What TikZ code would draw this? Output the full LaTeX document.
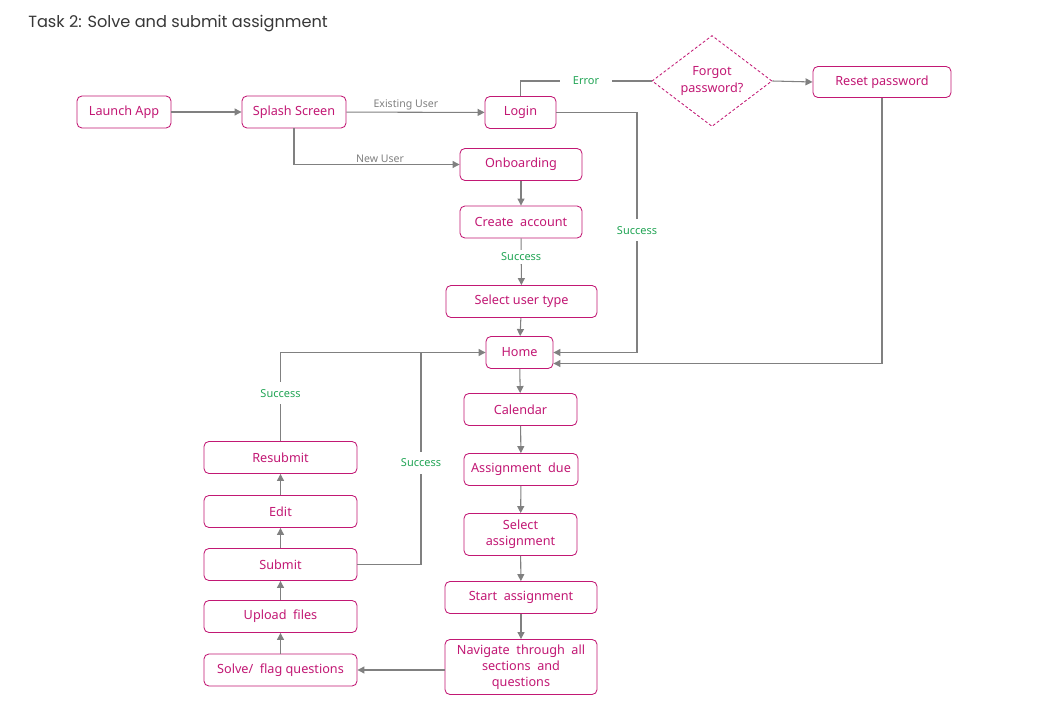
\documentclass[tikz,border=0pt]{standalone}
\usepackage{fontspec}
\setmainfont{Noto Sans}
\newfontfamily\titlefont{Poppins}
\usetikzlibrary{arrows.meta}
\usetikzlibrary{shapes.geometric}
\definecolor{boxmag}{RGB}{194,24,116}
\definecolor{linegray}{RGB}{128,128,128}
\definecolor{okgreen}{RGB}{34,165,85}
\definecolor{titlegray}{RGB}{55,55,55}

\begin{document}
\begin{tikzpicture}[x=0.025cm, y=-0.025cm,
    box/.style={draw=boxmag, rounded corners=3.5pt, line width=0.6pt, text=boxmag, font=\fontsize{9}{11.4}\selectfont, inner sep=0pt, align=center, minimum height=0.8cm},
    flow/.style={draw=linegray, line width=0.75pt, -{Triangle[length=5pt,width=5pt]}},
    plain/.style={draw=linegray, line width=0.75pt},
    lbl/.style={font=\fontsize{7.8}{9}\selectfont, text=okgreen, fill=white, inner sep=2pt},
    tag/.style={font=\fontsize{7.5}{9}\selectfont, text=linegray, inner sep=1pt}]

    \useasboundingbox[fill=white] (0,0) rectangle (1040,720);

    \node[anchor=west, inner sep=0pt, text=titlegray, font=\titlefont\fontsize{11.5}{13}\selectfont] (0) at (28,24) {Task 2: Solve and submit assignment};

    \node[box, minimum width=2.35cm] (1) at (124,112) {Launch App};
    \node[box, minimum width=2.6cm] (2) at (294,112) {Splash Screen};
    \node[box, minimum width=1.775cm] (3) at (520.5,112.5) {Login};
    
    \node[diamond, draw=boxmag, dash pattern=on 2pt off 1.5pt, line width=0.6pt, text=boxmag, font=\fontsize{9}{11.4}\selectfont, align=center, inner sep=0pt, minimum width=3cm, minimum height=2.05cm] (4) at (712,81) {Forgot\\password?};
    \node[box, minimum width=3.45cm, minimum height=0.775cm] (5) at (882,82) {Reset password};

    \node[box, minimum width=3.05cm] (6) at (521,164.5) {Onboarding};
    \node[box, minimum width=3.05cm] (7) at (521,222) {Create\ \ account};
    \node[box, minimum width=3.775cm] (8) at (521.5,301.5) {Select user type};
    \node[box, minimum width=1.675cm] (9) at (519.5,352.5) {Home};
    \node[box, minimum width=2.825cm] (10) at (520.5,409.5) {Calendar};
    \node[box, minimum width=2.85cm] (11) at (521,469.5) {Assignment\ \ due};
    \node[box, minimum width=2.825cm, minimum height=1.05cm] (12) at (520.5,534.5) {Select\\assignment};
    \node[box, minimum width=3.8cm] (13) at (521,597.5) {Start\ \ assignment};
    \node[box, minimum width=3.8cm, minimum height=1.375cm] (14) at (521,667) {Navigate\ \ through\ \ all\\sections\ \ and\\questions};

    \node[box, minimum width=3.825cm] (15) at (280.5,670) {Solve/\ \ flag questions};
    \node[box, minimum width=3.825cm] (16) at (280.5,616.5) {Upload\ \ files};
    \node[box, minimum width=3.825cm] (17) at (280.5,564.5) {Submit};
    \node[box, minimum width=3.825cm] (18) at (280.5,511.5) {Edit};
    \node[box, minimum width=3.825cm] (19) at (280.5,457.5) {Resubmit};

    \coordinate (20) at (637,112.5);
    \coordinate (21) at (421,352.5);

    \draw[flow] (1) to (2);
    \draw[flow] (2) to node[tag, above, pos=0.43] {Existing User} (3);
    \draw[flow] (2.south) |- node[tag, above, pos=0.76] {New User} (6.west);
    \draw[plain] (3.north) |- node[lbl, inner xsep=9pt, pos=0.75] {Error} (4.west);
    \draw[flow] (4.east) to (5.west);
    \draw[flow] (5.south) |- ([yshift=-0.275cm]9.east);
    \draw[flow] (3.east) -- (20) |- node[lbl, inner ysep=5pt, pos=0.245] {Success} (9.east);
    \draw[flow] (6) to (7);
    \draw[flow] (7) to node[lbl, pos=0.4] {Success} (8);
    \draw[flow] (8) to (9);
    \draw[flow] (9) to (10);
    \draw[flow] (10) to (11);
    \draw[flow] (11) to (12);
    \draw[flow] (12) to (13);
    \draw[flow] (13) to (14);
    \draw[flow] (14.west |- 15.east) to (15.east);
    \draw[flow] (15) to (16);
    \draw[flow] (16) to (17);
    \draw[flow] (17) to (18);
    \draw[flow] (18) to (19);
    \draw[flow] (19.north) |- node[lbl, inner ysep=5pt, pos=0.27] {Success} (9.west);
    \draw[plain] (17.east) -| node[lbl, inner ysep=5pt, pos=0.74] {Success} (21);
\end{tikzpicture}
\end{document}
